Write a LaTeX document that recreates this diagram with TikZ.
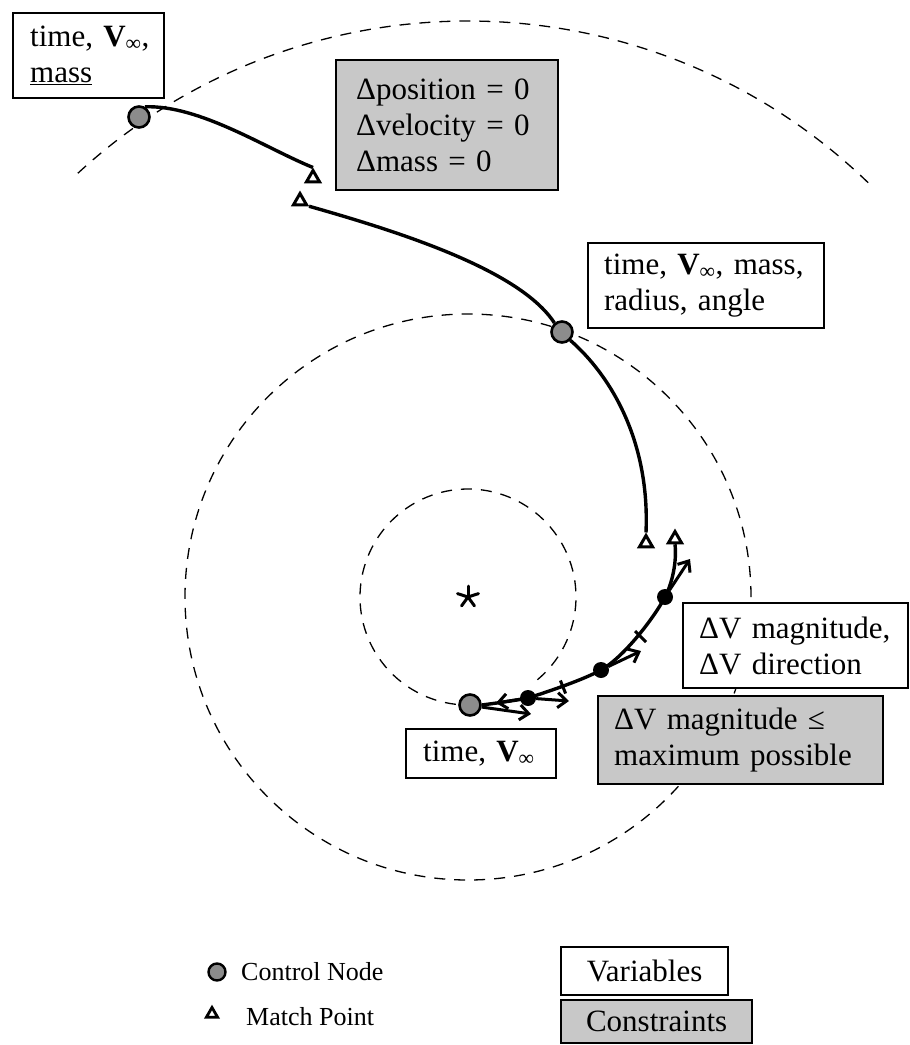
\documentclass[tikz,border=0pt]{standalone}
\usepackage{fontspec}
\setmainfont{Liberation Serif}
\usetikzlibrary{shapes.geometric,arrows.meta}
\definecolor{cgray}{RGB}{200,200,200}
\definecolor{ngray}{RGB}{140,140,140}
\newcommand{\bxfont}{\fontsize{31}{36}\selectfont}
\newcommand{\lgfont}{\fontsize{26}{30}\selectfont}
\newcommand{\Vinf}{\textbf{V}\textsubscript{∞}}
\begin{document}
\begin{tikzpicture}[x=1pt,y=-1pt,
  dline/.style={line width=1.3pt, dash pattern=on 11pt off 9pt},
  traj/.style={line width=3.4pt},
  boxbase/.style={draw, line width=2.3pt, anchor=north west, inner ysep=0pt, font=\bxfont},
  varbox/.style={boxbase, fill=white, align=left},
  conbox/.style={boxbase, fill=cgray, align=left},
  cnode/.style={circle, draw, line width=2.6pt, fill=ngray, minimum size=21pt, inner sep=0pt},
  dotn/.style={circle, fill=black, minimum size=16pt, inner sep=0pt},
  mpoint/.style={regular polygon, regular polygon sides=3, draw, line width=3pt, fill=white, minimum size=15pt, inner sep=0pt},
  thrust/.style={line width=3pt, -{Straight Barb[length=9pt,width=15pt]}},
  tickmark/.style={line width=3pt},
  lglabel/.style={anchor=base west, font=\lgfont, inner sep=0pt},
]
\useasboundingbox (0,0) rectangle (910,1045);

% dashed orbits
\coordinate (ctr) at (468,597);
\draw[dline] (ctr) circle[radius=283pt];
\draw[dline] ([shift={(-50:108pt)}]ctr) arc[start angle=-50, end angle=270, radius=108pt];
\draw[dline] ([shift={(46:576pt)}]ctr) arc[start angle=46, end angle=133, radius=576pt];

% central body
\coordinate (star) at (468,597);
\foreach \a in {90,162,234,306,18}
  \draw[line width=3pt, line cap=round] (star) -- ++(\a:11pt);

% markers
\node[cnode] (A) at (139,117) {};
\node[mpoint] (T1) at (313,178) {};
\node[mpoint] (T2) at (300,201) {};
\node[cnode] (B) at (562,332) {};
\node[mpoint] (T3) at (646,543) {};
\node[mpoint] (T4) at (675,539) {};
\node[cnode] (C) at (470,705) {};
\node[dotn] (D3) at (528,698) {};
\node[dotn] (D2) at (601,670) {};
\node[dotn] (D1) at (665,597) {};

% trajectory
\draw[traj] (A.60) .. controls (200,105) and (265,148) .. (T1.north);
\draw[traj] (T2.corner 3) .. controls (400,232) and (520,270) .. (B.130);
\draw[traj] (B.-45) .. controls (610,375) and (650,440) .. (T3.north);
\draw[traj] (C.east) .. controls (497,703) and (512,701) .. (D3.center)
  .. controls (547,692) and (583.5,679.7) .. (D2.center)
  .. controls (622.9,657.9) and (653.3,619.1) .. (D1.center)
  .. controls (672,583.8) and (677,562) .. (T4.south);

% segment ticks
\coordinate (k1a) at (560.4,680.5); \coordinate (k1b) at (565.6,693.5);
\coordinate (k2a) at (635,631);     \coordinate (k2b) at (646,642);
\draw[tickmark] (k1a) -- (k1b);
\draw[tickmark] (k2a) -- (k2b);

% thrust vectors
\coordinate (v0) at (531,714);
\coordinate (vb) at (496,703);
\coordinate (v3) at (569,701);
\coordinate (v2) at (641,651);
\coordinate (v1) at (690,559);
\draw[thrust] (C.-10) -- (v0);
\draw[thrust] (D3) -- (vb);
\draw[thrust] (D3) -- (v3);
\draw[thrust] (D2) -- (v2);
\draw[thrust] (D1) -- (v1);

% boxes
\node[varbox, text width=117pt, inner xsep=17pt, minimum height=85pt] (vb1) at (12,12)
  {\mbox{time, \Vinf,}\\\mbox{\underline{mass}}};
\node[conbox, text width=182pt, inner xsep=20pt, minimum height=130pt] (cb1) at (335,59)
  {\mbox{Δposition = 0}\\\mbox{Δvelocity = 0}\\\mbox{Δmass = 0}};
\node[varbox, text width=204pt, inner xsep=16pt, minimum height=85pt] (vb2) at (587,242)
  {\mbox{time, \Vinf, mass,}\\\mbox{radius, angle}};
\node[varbox, text width=193pt, inner xsep=16pt, minimum height=85pt] (vb3) at (682,602)
  {\mbox{ΔV magnitude,}\\\mbox{ΔV direction}};
\node[conbox, text width=253pt, inner xsep=16pt, minimum height=88pt] (cb2) at (597,695)
  {\mbox{ΔV magnitude ≤}\\\mbox{maximum possible}};
\node[varbox, text width=116pt, inner xsep=17pt, minimum height=49pt] (vb4) at (405,728)
  {\mbox{time, \Vinf}};

% legend
\node[cnode, minimum size=17pt, line width=2.4pt] (lgC) at (217,972) {};
\node[mpoint, minimum size=13pt, line width=2.8pt] (lgT) at (212,1014) {};
\node[lglabel] (lgCt) at (241,980) {Control Node};
\node[lglabel] (lgTt) at (246,1025) {Match Point};
\node[varbox, align=center, text width=135pt, inner xsep=16pt, minimum height=48pt] (lgV) at (560,946) {Variables};
\node[conbox, align=center, text width=159pt, inner xsep=16pt, minimum height=43pt] (lgK) at (560,999) {Constraints};
\end{tikzpicture}
\end{document}
